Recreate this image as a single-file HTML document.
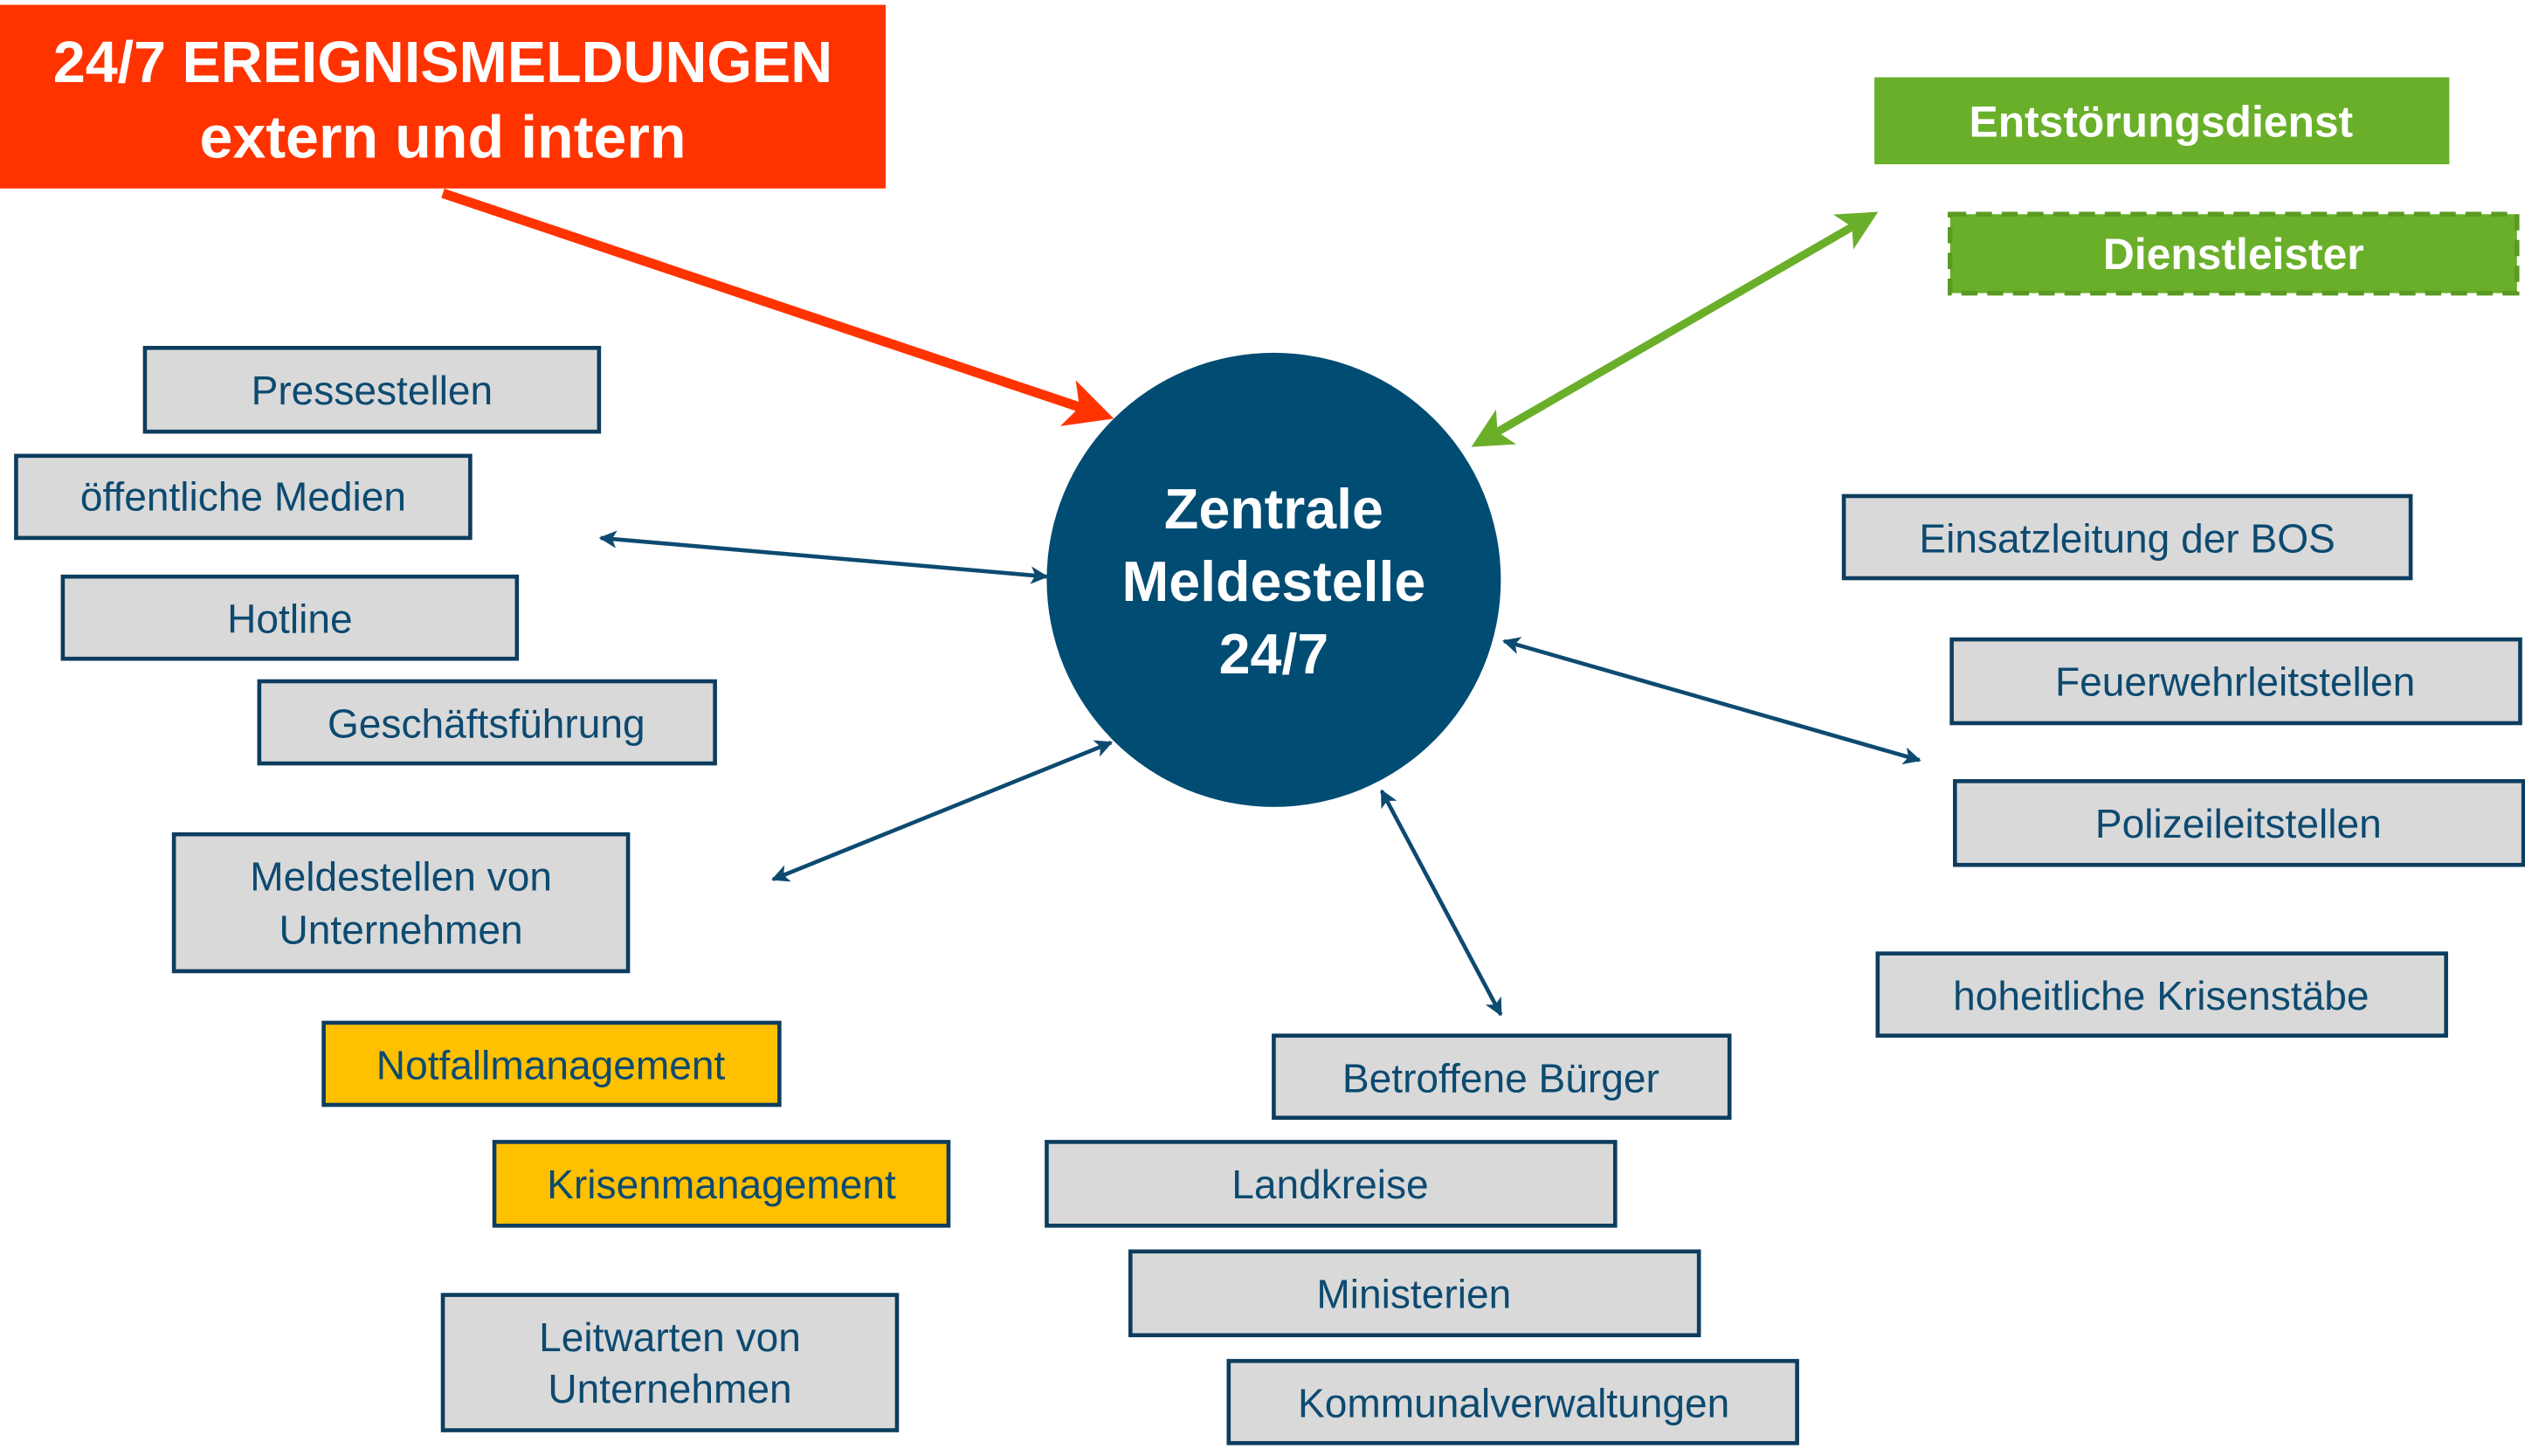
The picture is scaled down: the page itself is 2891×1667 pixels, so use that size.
<!DOCTYPE html>
<html><head><meta charset="utf-8"><style>
html,body{margin:0;padding:0;background:#fff;overflow:hidden}
svg{display:block}
text{font-family:"Liberation Sans","DejaVu Sans",sans-serif}
</style></head><body>
<svg width="2891" height="1667" viewBox="0 0 1568 904" preserveAspectRatio="none" xmlns="http://www.w3.org/2000/svg">
<defs>
<marker id="ab" viewBox="0 0 10 10" refX="9" refY="5" markerWidth="13" markerHeight="11" orient="auto-start-reverse" markerUnits="userSpaceOnUse"><path d="M0,0 L10,5 L0,10 L2.5,5 z" fill="#0d4a70"/></marker>
<marker id="ar" viewBox="0 0 10 10" refX="8" refY="5" markerWidth="5" markerHeight="5" orient="auto"><path d="M0,0 L10,5 L0,10 L2.5,5 z" fill="#ff3300"/></marker>
<marker id="ag" viewBox="0 0 10 10" refX="8" refY="5" markerWidth="5" markerHeight="5" orient="auto-start-reverse"><path d="M0,0 L10,5 L0,10 L2.5,5 z" fill="#6aaf2a"/></marker>
</defs>
<rect x="0" y="3" width="550" height="114" fill="#ff3300"/>
<text x="275" y="51" font-size="36" font-weight="bold" fill="#fff" text-anchor="middle">24/7 EREIGNISMELDUNGEN</text>
<text x="275" y="98" font-size="37" font-weight="bold" fill="#fff" text-anchor="middle">extern und intern</text>
<line x1="275" y1="120" x2="686" y2="258" stroke="#ff3300" stroke-width="6" marker-end="url(#ar)"/>
<rect x="1164" y="48" width="357" height="54" fill="#6aaf2a"/>
<text x="1342" y="85" font-size="27" font-weight="bold" fill="#fff" text-anchor="middle">Entstörungsdienst</text>
<rect x="1211" y="133" width="352" height="49" fill="#6aaf2a" stroke="#5a9a22" stroke-width="3" stroke-dasharray="10,6"/>
<text x="1387" y="167" font-size="27" font-weight="bold" fill="#fff" text-anchor="middle">Dienstleister</text>
<line x1="918" y1="275" x2="1162" y2="134" stroke="#6aaf2a" stroke-width="5" marker-start="url(#ag)" marker-end="url(#ag)"/>
<circle cx="791" cy="360" r="141" fill="#004c73"/>
<g font-size="35" font-weight="bold" fill="#fff" text-anchor="middle">
<text x="791" y="328">Zentrale</text><text x="791" y="373">Meldestelle</text><text x="791" y="418">24/7</text></g>
<g stroke="#0d4a70" stroke-width="2.5" marker-start="url(#ab)" marker-end="url(#ab)">
<line x1="373" y1="334" x2="650" y2="358"/>
<line x1="480" y1="546" x2="690" y2="461"/>
<line x1="858" y1="491" x2="932" y2="630"/>
<line x1="934" y1="398" x2="1192" y2="472"/>
</g>
<g stroke="#0d3d5e" stroke-width="2.5" font-size="25" fill="#d9d9d9">
<rect x="90" y="216" width="282" height="52"/>
<rect x="10" y="283" width="282" height="51"/>
<rect x="39" y="358" width="282" height="51"/>
<rect x="161" y="423" width="283" height="51"/>
<rect x="108" y="518" width="282" height="85"/>
<rect x="201" y="635" width="283" height="51" fill="#ffc000"/>
<rect x="307" y="709" width="282" height="52" fill="#ffc000"/>
<rect x="275" y="804" width="282" height="84"/>
<rect x="791" y="643" width="283" height="51"/>
<rect x="650" y="709" width="353" height="52"/>
<rect x="702" y="777" width="353" height="52"/>
<rect x="763" y="845" width="353" height="51"/>
<rect x="1145" y="308" width="352" height="51"/>
<rect x="1212" y="397" width="353" height="52"/>
<rect x="1214" y="485" width="353" height="52"/>
<rect x="1166" y="592" width="353" height="51"/>
</g>
<g font-size="25" fill="#0d4a70" text-anchor="middle">
<text x="231" y="251">Pressestellen</text>
<text x="151" y="317">öffentliche Medien</text>
<text x="180" y="393">Hotline</text>
<text x="302" y="458">Geschäftsführung</text>
<text x="249" y="553">Meldestellen von</text>
<text x="249" y="586">Unternehmen</text>
<text x="342" y="670">Notfallmanagement</text>
<text x="448" y="744">Krisenmanagement</text>
<text x="416" y="839">Leitwarten von</text>
<text x="416" y="871">Unternehmen</text>
<text x="932" y="678">Betroffene Bürger</text>
<text x="826" y="744">Landkreise</text>
<text x="878" y="812">Ministerien</text>
<text x="940" y="880">Kommunalverwaltungen</text>
<text x="1321" y="343">Einsatzleitung der BOS</text>
<text x="1388" y="432">Feuerwehrleitstellen</text>
<text x="1390" y="520">Polizeileitstellen</text>
<text x="1342" y="627">hoheitliche Krisenstäbe</text>
</g>
</svg>
</body></html>
